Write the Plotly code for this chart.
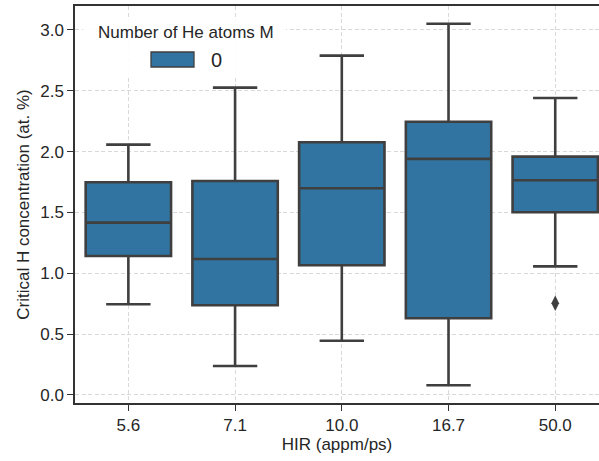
import plotly.graph_objects as go

categories = ["5.6", "7.1", "10.0", "16.7", "50.0"]
lower_whisker = [0.745, 0.238, 0.446, 0.08, 1.057]
q1 = [1.142, 0.737, 1.066, 0.63, 1.501]
median = [1.416, 1.117, 1.698, 1.94, 1.764]
q3 = [1.748, 1.758, 2.076, 2.245, 1.958]
upper_whisker = [2.057, 2.525, 2.788, 3.05, 2.44]
outlier_x = ["50.0"]
outlier_y = [0.753]
legend_title = "Number of He atoms M"
legend_label = "0"

fill = "#3274a1"
edge = "#3f3f3f"
font = "Liberation Sans, Arial, sans-serif"

# plot-area pixel geometry (for placing the hand-made legend)
L, R, T, B = 75, 599, 6, 403


def px(x):
    return (x - L) / (R - L)


def py(y):
    return (B - y) / (B - T)


fig = go.Figure()
fig.add_trace(go.Box(
    x=categories, q1=q1, median=median, q3=q3,
    lowerfence=lower_whisker, upperfence=upper_whisker,
    name=legend_label, fillcolor=fill, line=dict(color=edge, width=2.6),
    whiskerwidth=0.52, boxpoints=False, showlegend=False,
))
fig.add_trace(go.Scatter(
    x=outlier_x, y=outlier_y, mode="markers",
    marker=dict(symbol="diamond-tall", size=11, color=edge),
    showlegend=False, hoverinfo="y",
))

shapes = [
    dict(type="rect", xref="paper", yref="paper",
         x0=px(83), x1=px(286), y0=py(75), y1=py(17),
         fillcolor="rgba(255,255,255,0.9)", line=dict(width=0), layer="above"),
    dict(type="rect", xref="paper", yref="paper",
         x0=px(151), x1=px(194), y0=py(67), y1=py(52),
         fillcolor=fill, line=dict(color=edge, width=1.3), layer="above"),
]
annotations = [
    dict(text=legend_title, xref="paper", yref="paper", x=px(186), y=py(32),
         xanchor="center", yanchor="middle", showarrow=False,
         font=dict(size=17, color="#262626")),
    dict(text=legend_label, xref="paper", yref="paper", x=px(209), y=py(60),
         xanchor="left", yanchor="middle", showarrow=False,
         font=dict(size=20, color="#262626")),
]

fig.update_layout(
    width=599, height=461,
    margin=dict(l=L, r=0, t=T, b=461 - B),
    plot_bgcolor="white", paper_bgcolor="white",
    font=dict(family=font, color="#262626", size=17),
    boxgap=0.2, boxgroupgap=0,
    showlegend=False,
    shapes=shapes, annotations=annotations,
    xaxis=dict(
        type="category", categoryorder="array", categoryarray=categories,
        range=[-0.5, 4.41],
        showline=True, linecolor="#333333", linewidth=1.5, mirror=True,
        ticks="outside", ticklen=6, tickcolor="#333333", tickwidth=1.3,
        showgrid=True, gridcolor="#d9d9d9", griddash="4px,2.5px", gridwidth=1,
        tickfont=dict(size=17, color="#262626"),
        title=dict(text="HIR (appm/ps)", font=dict(size=17), standoff=4),
        zeroline=False,
    ),
    yaxis=dict(
        range=[-0.066, 3.196],
        tickvals=[0, 0.5, 1, 1.5, 2, 2.5, 3],
        ticktext=["0.0", "0.5", "1.0", "1.5", "2.0", "2.5", "3.0"],
        showline=True, linecolor="#333333", linewidth=1.5,
        ticks="outside", ticklen=6, tickcolor="#333333", tickwidth=1.3,
        showgrid=True, gridcolor="#d9d9d9", griddash="4px,2.5px", gridwidth=1,
        tickfont=dict(size=17, color="#262626"),
        title=dict(text="Critical H concentration (at. %)", font=dict(size=17), standoff=6),
        zeroline=False,
    ),
)

fig.write_html("out.html")
